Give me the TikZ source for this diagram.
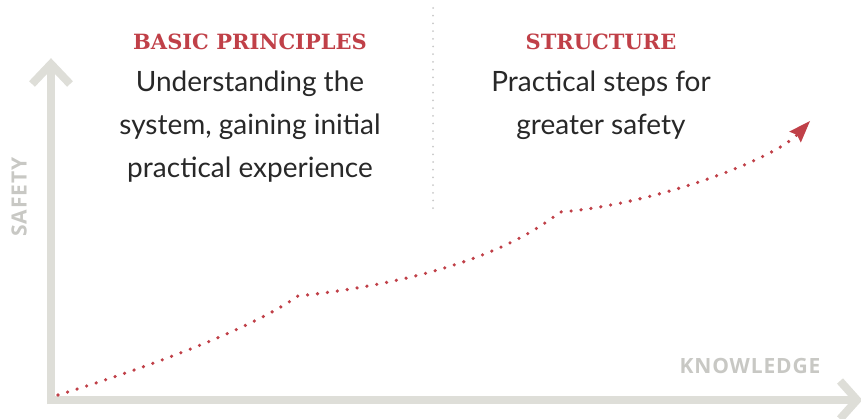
\documentclass[tikz,border=0pt]{standalone}
\usepackage{fontspec}
\setmainfont{Lato}
\newfontfamily\titlefont{DejaVu Serif}[BoldFont={DejaVu Serif Bold}]
\newfontfamily\labelfont{Open Sans}[LetterSpace=4]
\definecolor{axisgray}{RGB}{222,222,216}
\definecolor{labelgray}{RGB}{200,200,196}
\definecolor{titlered}{RGB}{192,64,72}
\definecolor{bodytext}{RGB}{40,40,40}
\definecolor{sepgray}{RGB}{200,200,200}
\tikzset{
  axis/.style={draw=axisgray, line width=8pt},
  chevron/.style={draw=axisgray, line width=8pt, line cap=butt, line join=miter},
  axislabel/.style={text=labelgray, font=\labelfont\bfseries\fontsize{21}{21}\selectfont, inner sep=0pt},
  heading/.style={text=titlered, font=\titlefont\bfseries\fontsize{21}{21}\selectfont, anchor=base, inner sep=0pt},
  bodyline/.style={text=bodytext, font=\fontsize{28}{28}\selectfont, anchor=base, inner sep=0pt},
  curve/.style={draw=titlered, line width=3.6pt, line cap=round, dash pattern=on 0pt off 10pt},
  separator/.style={draw=sepgray, line width=2pt, line cap=round, dash pattern=on 0pt off 7.7pt}
}
\begin{document}
\begin{tikzpicture}[x=1pt, y=-1pt]
\useasboundingbox (0,0) rectangle (861,419);
% axes
\coordinate (ytop) at (51,64);
\coordinate (xend) at (855,400);
\draw[axis] (51,404) -- (ytop);
\draw[axis] (47,400) -- (xend);
\draw[chevron] (32,84) -- (51,64) -- (70,84);
\draw[chevron] (840,381) -- (857,400) -- (840,419);
% axis labels
\node[axislabel, rotate=90] (safety) at (19,197) {SAFETY};
\node[axislabel] (knowledge) at (750,366) {KNOWLEDGE};
% separator
\coordinate (sepTop) at (433,8);
\coordinate (sepBot) at (433,210);
\draw[separator] (sepTop) -- (sepBot);
% headings and text
\node[heading] (h1) at (250,50) {BASIC PRINCIPLES};
\node[bodyline] (l1) at (250,92) {Understanding the};
\node[bodyline] (l2) at (250,135) {system, gaining initial};
\node[bodyline] (l3) at (250,178) {practical experience};
\node[heading] (h2) at (601,50) {STRUCTURE};
\node[bodyline] (r1) at (601,92) {Practical steps for};
\node[bodyline] (r2) at (601,135) {greater safety};
% curve
\coordinate (p0) at (58,395);
\coordinate (p1) at (298,296);
\coordinate (p2) at (560,212);
\coordinate (p3) at (810,121);
\draw[curve] (p0) .. controls (140,370) and (250,330) .. (p1)
  .. controls (400,285) and (500,260) .. (p2)
  .. controls (650,205) and (770,162) .. (798,134);
\fill[titlered] (p3) -- (789.2,131.6) -- (797.0,134.9) -- (800.8,142.6) -- cycle;
\end{tikzpicture}
\end{document}
